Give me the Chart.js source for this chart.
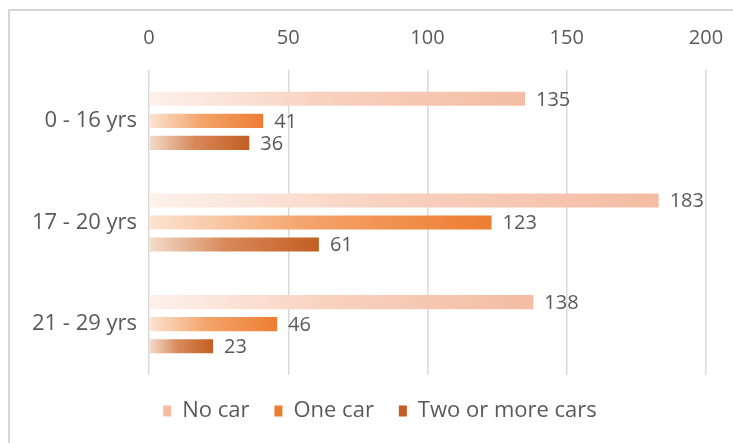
<!DOCTYPE html>
<html>
<head>
<meta charset="utf-8">
<script src="https://cdn.jsdelivr.net/npm/chart.js@4/dist/chart.umd.min.js"></script>
<style>
  body { margin: 0; background: #fff; }
  #wrap { width: 733px; height: 443px; }
</style>
</head>
<body>
<div id="wrap"><canvas id="carChart" width="733" height="443"></canvas></div>
<script>
const ageGroups = ['0 - 16 yrs', '17 - 20 yrs', '21 - 29 yrs'];
const noCar = [135, 183, 138];
const oneCar = [41, 123, 46];
const twoOrMore = [36, 61, 23];
const xTicks = [0, 50, 100, 150, 200];

const textColor = '#595959';
const fontFamily = '"Open Sans", "Liberation Sans", sans-serif';
const numSize = 20;
const textSize = 22;

// start colour (left of bar) -> end colour (bar end)
const shades = {
    'No car': ['#fdf1eb', '#f8d2c0', '#f4bca3'],
    'One car': ['#fce3d1', '#f4a46c', '#ed7d31'],
    'Two or more cars': ['#f3dccb', '#d8895a', '#c25e22']
};

function barGradient(ctx) {
    const chart = ctx.chart;
    const stops = shades[ctx.dataset.label];
    if (!chart.chartArea || ctx.type !== 'data') return stops[2];
    const xs = chart.scales.x;
    const x0 = xs.getPixelForValue(0);
    const x1 = xs.getPixelForValue(ctx.raw);
    const g = chart.ctx.createLinearGradient(x0, 0, x1, 0);
    g.addColorStop(0, stops[0]);
    g.addColorStop(0.45, stops[1]);
    g.addColorStop(1, stops[2]);
    return g;
}

const valueLabels = {
    id: 'valueLabels',
    afterDatasetsDraw(chart) {
        const c = chart.ctx;
        c.save();
        c.font = numSize + 'px ' + fontFamily;
        c.fillStyle = textColor;
        c.textAlign = 'left';
        c.textBaseline = 'middle';
        chart.data.datasets.forEach((ds, i) => {
            chart.getDatasetMeta(i).data.forEach((bar, j) => {
                c.fillText(ds.data[j], bar.x + 11, bar.y + 1);
            });
        });
        c.restore();
    }
};

// outer chart frame, only top/left edges are visible in the picture
const frame = {
    id: 'frame',
    beforeDraw(chart) {
        const c = chart.ctx;
        c.save();
        c.strokeStyle = '#c9c9c9';
        c.lineWidth = 1.5;
        c.beginPath();
        c.moveTo(9, chart.height);
        c.lineTo(9, 10);
        c.lineTo(chart.width, 10);
        c.stroke();
        c.restore();
    }
};

// legend is centred on the whole frame, not the plot; nudge it right
const legendShift = {
    id: 'legendShift',
    afterLayout(chart) {
        const lg = chart.legend;
        lg.left += 23;
        lg.right += 23;
    }
};

new Chart(document.getElementById('carChart'), {
    type: 'bar',
    data: {
        labels: ageGroups,
        datasets: [
            { label: 'No car', data: noCar, backgroundColor: barGradient },
            { label: 'One car', data: oneCar, backgroundColor: barGradient },
            { label: 'Two or more cars', data: twoOrMore, backgroundColor: barGradient }
        ]
    },
    options: {
        indexAxis: 'y',
        responsive: false,
        animation: false,
        layout: { padding: { left: 8, right: 27, top: 20, bottom: 11 } },
        datasets: {
            bar: { categoryPercentage: 0.65, barPercentage: 0.64 }
        },
        scales: {
            x: {
                position: 'top',
                min: 0,
                max: 200,
                afterBuildTicks(scale) { scale.ticks = xTicks.map(v => ({ value: v })); },
                afterFit(scale) {
                    scale.height = 50;
                    scale.paddingLeft = 0;
                    scale.paddingRight = 0;
                },
                grid: { color: '#d9d9d9', lineWidth: 1.5, drawTicks: false },
                border: { display: false },
                ticks: { color: textColor, font: { size: numSize, family: fontFamily }, padding: 20, maxRotation: 0 }
            },
            y: {
                afterFit(scale) { scale.width = 141; },
                grid: { display: false, drawTicks: false },
                border: { display: false },
                ticks: { color: textColor, font: { size: textSize, family: fontFamily }, padding: 12 }
            }
        },
        plugins: {
            legend: {
                position: 'bottom',
                labels: {
                    color: textColor,
                    font: { size: textSize, family: fontFamily },
                    boxWidth: 8,
                    boxHeight: 11,
                    padding: 25,
                    generateLabels(chart) {
                        return chart.data.datasets.map((ds, i) => ({
                            text: ds.label,
                            fillStyle: shades[ds.label][2],
                            strokeStyle: shades[ds.label][2],
                            lineWidth: 0,
                            fontColor: textColor,
                            datasetIndex: i
                        }));
                    }
                }
            },
            tooltip: { enabled: false }
        }
    },
    plugins: [frame, legendShift, valueLabels]
});
</script>
</body>
</html>
